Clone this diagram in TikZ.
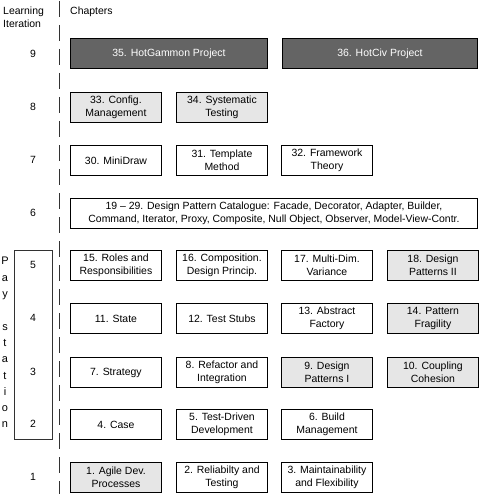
\documentclass[tikz,border=0pt]{standalone}
\usepackage{fontspec}
\setmainfont{Liberation Sans}
\usetikzlibrary{shadows}
\definecolor{darkfill}{RGB}{100,100,100}
\definecolor{lightfill}{RGB}{230,230,230}
\definecolor{lineg}{RGB}{50,50,50}
\begin{document}
\begin{tikzpicture}[x=1bp,y=-1bp,
  every node/.style={font=\fontsize{10.5}{12.5}\selectfont, inner sep=0pt},
  box/.style={draw=black, line width=0.9bp, fill=white, anchor=north west,
    minimum width=91bp, minimum height=30bp, align=center,
    drop shadow={shadow xshift=1bp, shadow yshift=-1bp, fill=black, opacity=1}},
  wbox/.style={box},
  gbox/.style={box, fill=lightfill},
  dbox/.style={box, fill=darkfill, text=white},
  lvl/.style={anchor=center},
  letter/.style={anchor=base, font=\fontsize{11}{13}\selectfont},
  dashline/.style={draw=lineg, line width=1bp, dash pattern=on 16bp off 8bp}
]
\useasboundingbox (0,0) rectangle (479,494);
% header
\node[anchor=north west, align=left] (hdr) at (3,7) {Learning\\Iteration};
\node[anchor=north west] (chap) at (70,7) {Chapters};
% separator
\coordinate (sepT) at (59,1);
\coordinate (sepB) at (59,494);
\draw[dashline] (sepT) -- (sepB);
% pay station box
\node[draw=lineg, line width=0.8bp, anchor=north west, minimum width=38bp, minimum height=189bp] (pay) at (14,250) {};
\node[letter] (pl0) at (5,264) {P};
\node[letter] (pl1) at (5,281) {a};
\node[letter] (pl2) at (5,297) {y};
\node[letter] (pl4) at (5,330) {s};
\node[letter] (pl5) at (5,346) {t};
\node[letter] (pl6) at (5,362) {a};
\node[letter] (pl7) at (5,379) {t};
\node[letter] (pl8) at (5,395) {i};
\node[letter] (pl9) at (5,411) {o};
\node[letter] (pl10) at (5,427) {n};
% level numbers
\foreach \r/\yc in {9/54,8/107,7/160,6/213,5/265,4/318,3/372,2/424,1/477}
  \node[lvl] (lvl\r) at (33,\yc) {\r};
% row 9
\node[dbox, minimum width=197bp] (c35) at (70,38) {35. HotGammon Project};
\node[dbox, minimum width=195bp] (c36) at (282,38) {36. HotCiv Project};
% row 8
\node[gbox] (c33) at (70,92) {33. Config.\\Management};
\node[gbox] (c34) at (176,92) {34. Systematic\\Testing};
% row 7
\node[wbox] (c30) at (70,145) {30. MiniDraw};
\node[wbox] (c31) at (176,145) {31. Template\\Method};
\node[wbox] (c32) at (281,145) {32. Framework\\Theory};
% row 6
\node[wbox, minimum width=407bp] (c19) at (70,198) {19 -- 29. Design Pattern Catalogue: Facade, Decorator, Adapter, Builder,\\Command, Iterator, Proxy, Composite, Null Object, Observer, Model-View-Contr.};
% row 5
\node[wbox] (c15) at (70,250) {15. Roles and\\Responsibilities};
\node[wbox] (c16) at (176,250) {16. Composition.\\Design Princip.};
\node[wbox] (c17) at (281,250) {17. Multi-Dim.\\Variance};
\node[gbox] (c18) at (387,250) {18. Design\\Patterns II};
% row 4
\node[wbox] (c11) at (70,303) {11. State};
\node[wbox] (c12) at (176,303) {12. Test Stubs};
\node[wbox] (c13) at (281,303) {13. Abstract\\Factory};
\node[gbox] (c14) at (387,303) {14. Pattern\\Fragility};
% row 3
\node[wbox] (c7) at (70,357) {7. Strategy};
\node[wbox] (c8) at (176,357) {8. Refactor and\\Integration};
\node[gbox] (c9) at (281,357) {9. Design\\Patterns I};
\node[gbox] (c10) at (387,357) {10. Coupling\\Cohesion};
% row 2
\node[wbox] (c4) at (70,409) {4. Case};
\node[wbox] (c5) at (176,409) {5. Test-Driven\\Development};
\node[wbox] (c6) at (281,409) {6. Build\\Management};
% row 1
\node[gbox] (c1) at (70,462) {1. Agile Dev.\\Processes};
\node[wbox] (c2) at (176,462) {2. Reliabilty and\\Testing};
\node[wbox] (c3) at (281,462) {3. Maintainability\\and Flexibility};
\end{tikzpicture}
\end{document}
